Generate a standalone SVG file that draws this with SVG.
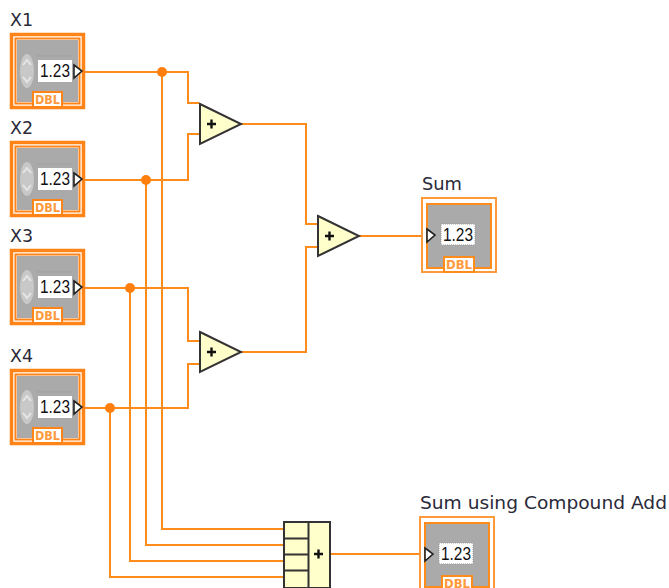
<svg xmlns="http://www.w3.org/2000/svg" width="669" height="588" viewBox="0 0 669 588">
<defs>
<style>
text{font-family:"DejaVu Sans","Liberation Sans",sans-serif}
.lbl{font-size:18px;fill:#2a2a3a}
.w{fill:none;stroke:#ff8c1a;stroke-width:2}
.dot{fill:#ff7f0e}
.val{font-size:18px;fill:#111;font-family:"Liberation Sans",sans-serif}
.dbl{font-size:12px;font-weight:bold;fill:#ff9a3a}
.tri{fill:#ffffcc;stroke:#333;stroke-width:2}
.plus{stroke:#111;stroke-width:2.400;fill:none}
</style>
<g id="ctrl">
<rect x="10" y="33" width="75" height="76" fill="#fff"/>
<rect x="11.500" y="34.500" width="72" height="73" fill="none" stroke="#ff8418" stroke-width="3.500"/>
<rect x="15.500" y="38.500" width="64" height="65" fill="none" stroke="#ff8418" stroke-width="2"/>
<rect x="17" y="40" width="61" height="62" fill="#aaa"/>
<path d="M37 56h35" stroke="#999" stroke-dasharray="1 1"/>
<ellipse cx="27" cy="71" rx="7" ry="17" fill="#c8c8c8"/>
<path d="M23 65l4-5 4 5M23 77l4 5 4-5" fill="none" stroke="#e6e6e6" stroke-width="2"/>
<rect x="38" y="60" width="34" height="22" fill="#fff"/>
<text class="val" x="40" y="77" textLength="30" lengthAdjust="spacingAndGlyphs">1.23</text>
<path d="M74 65l8 6-8 7z" fill="#fff" stroke="#222" stroke-width="1.600"/>
<rect x="33" y="92" width="29" height="15" fill="#fff" stroke="#ff8418" stroke-width="2"/>
<text class="dbl" x="35" y="104" textLength="25" lengthAdjust="spacingAndGlyphs">DBL</text>
</g>
<g id="ind">
<rect x="421" y="197" width="76" height="76" fill="#fff"/>
<rect x="422" y="198" width="74" height="74" fill="none" stroke="#ff9a3a" stroke-width="2"/>
<rect x="427" y="204" width="64" height="64" fill="#aaa" stroke="#ff8c1a" stroke-width="2"/>
<rect x="441" y="224" width="34" height="21" fill="#fff" stroke="#999" stroke-dasharray="1 1"/>
<text class="val" x="443" y="241" textLength="30" lengthAdjust="spacingAndGlyphs">1.23</text>
<path d="M427 229l8 6-8 7z" fill="#fff" stroke="#222" stroke-width="1.600"/>
<rect x="444" y="257" width="30" height="15" fill="#fff" stroke="#ff8c1a" stroke-width="2"/>
<text class="dbl" x="446" y="269" textLength="26" lengthAdjust="spacingAndGlyphs">DBL</text>
</g>
</defs>
<rect width="669" height="588" fill="#fff"/>
<g id="connectors">
<path class="w" d="M84 72H188V103H199"/>
<path class="w" d="M162 72V529H284"/>
<path class="w" d="M84 180H188V134H199"/>
<path class="w" d="M146 180V545H284"/>
<path class="w" d="M84 288H188V341H199"/>
<path class="w" d="M130 288V561H284"/>
<path class="w" d="M84 408H188V364H199"/>
<path class="w" d="M110 408V577H284"/>
<path class="w" d="M241 124H306V224H317"/>
<path class="w" d="M241 352H306V247H317"/>
<path class="w" d="M359 236H427"/>
<path class="w" d="M331 554H425"/>
<circle class="dot" cx="162" cy="72" r="5"/>
<circle class="dot" cx="146" cy="180" r="5"/>
<circle class="dot" cx="130" cy="288" r="5"/>
<circle class="dot" cx="110" cy="408" r="5"/>
</g>
<g id="x1"><text class="lbl" x="10" y="26" textLength="23" lengthAdjust="spacingAndGlyphs">X1</text><use href="#ctrl"/></g>
<g id="x2"><text class="lbl" x="10" y="134" textLength="23" lengthAdjust="spacingAndGlyphs">X2</text><use href="#ctrl" y="108"/></g>
<g id="x3"><text class="lbl" x="10" y="242" textLength="23" lengthAdjust="spacingAndGlyphs">X3</text><use href="#ctrl" y="216"/></g>
<g id="x4"><text class="lbl" x="10" y="362" textLength="23" lengthAdjust="spacingAndGlyphs">X4</text><use href="#ctrl" y="336"/></g>
<g id="add1"><path class="tri" d="M200 104L241 124L200 144z"/><path class="plus" d="M207 124h9M211.500 119.500v9"/></g>
<g id="add2"><path class="tri" d="M200 332L241 352L200 372z"/><path class="plus" d="M207 352h9M211.500 347.500v9"/></g>
<g id="add3"><path class="tri" d="M318 216L359 236L318 256z"/><path class="plus" d="M325 236h9M329.500 231.500v9"/></g>
<g id="sum"><text class="lbl" x="422" y="190" textLength="40" lengthAdjust="spacingAndGlyphs">Sum</text><use href="#ind"/></g>
<g id="compound">
<rect x="284" y="522" width="46" height="66" fill="#ffffcc" stroke="#333" stroke-width="2"/>
<path d="M284 538.500h25M284 554.500h25M284 570.500h25M308.500 522v66" fill="none" stroke="#333" stroke-width="2"/>
<path class="plus" d="M314 554h9M318.500 549.500v9"/>
</g>
<g id="sumc"><text class="lbl" x="420" y="509" textLength="247" lengthAdjust="spacingAndGlyphs">Sum using Compound Add</text><use href="#ind" x="-2" y="319"/></g>
</svg>
